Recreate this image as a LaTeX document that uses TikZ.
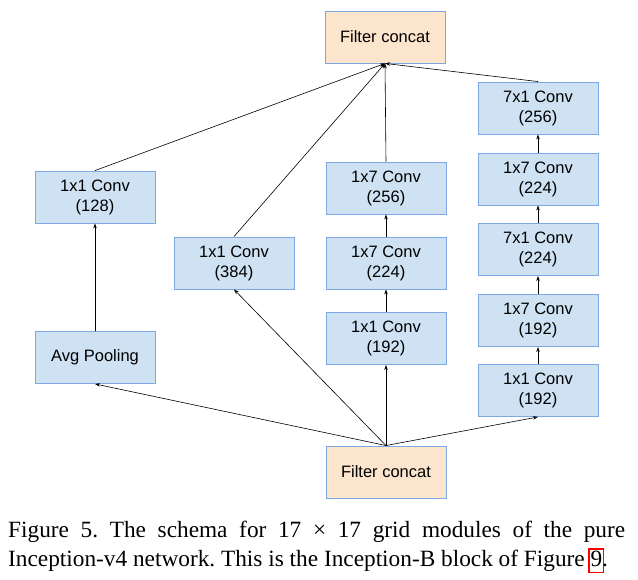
\documentclass[tikz,border=0pt]{standalone}
\usepackage{fontspec}
\setmainfont{Liberation Serif}
\newfontfamily\boxfont{Liberation Sans}
\usetikzlibrary{arrows.meta}
\definecolor{convfill}{HTML}{CFE2F3}
\definecolor{concatfill}{HTML}{FCE5CD}
\definecolor{boxline}{HTML}{7EA8E4}
\newcommand{\linkbox}[1]{\kern-2.2pt{\setlength{\fboxsep}{1pt}\setlength{\fboxrule}{1.2pt}\fcolorbox{red}{white}{\vphantom{g}#1}}\kern-2.2pt}

\begin{document}
\begin{tikzpicture}[x=1pt,y=-1pt,
  conv/.style={draw=boxline, fill=convfill, line width=0.9pt, minimum width=120pt, minimum height=52pt, inner sep=0pt, align=center, font=\boxfont\fontsize{16.5}{20}\selectfont},
  concat/.style={conv, fill=concatfill},
  arr/.style={-{Stealth[length=5pt,width=3.5pt]}, line width=0.6pt}]
\useasboundingbox (0,0) rectangle (638,580);
% concat nodes
\node[concat] (fcout) at (385,37) {Filter concat};
\node[concat] (fcin) at (386,472) {Filter concat};
% pooling branch
\node[conv] (pool) at (95,357.5) {Avg Pooling};
\node[conv] (conv128) at (95,197) {1x1 Conv\\(128)};
% single conv branch
\node[conv] (conv384) at (234,263) {1x1 Conv\\(384)};
% 7x7 branch
\node[conv] (sa) at (386,338.5) {1x1 Conv\\(192)};
\node[conv] (sb) at (386,263) {1x7 Conv\\(224)};
\node[conv] (sc) at (386,188) {1x7 Conv\\(256)};
% double 7x7 branch
\node[conv] (da) at (538,390.5) {1x1 Conv\\(192)};
\node[conv] (db) at (538,320.5) {1x7 Conv\\(192)};
\node[conv] (dc) at (538,249.5) {7x1 Conv\\(224)};
\node[conv] (dd) at (538,179) {1x7 Conv\\(224)};
\node[conv] (de) at (538,108) {7x1 Conv\\(256)};

\foreach \n in {pool,conv384,sa,da}% from input
  \draw[arr] (fcin.north) -- (\n.south);
\foreach \a/\b in {pool/conv128,sa/sb,sb/sc,da/db,db/dc,dc/dd,dd/de}% inside branches
  \draw[arr] (\a) -- (\b);
\foreach \n in {conv128,conv384,sc,de}% to output
  \draw[arr] (\n.north) -- (fcout.south);

\node[anchor=base west, text width=617pt, align=justify, inner sep=0pt, font=\fontsize{23.3}{29}\selectfont] (caption) at (8,537)
  {\tolerance=10000\relax\hyphenpenalty=10000\relax\frenchspacing Figure 5. The schema for 17 × 17 grid modules of the pure\linebreak Inception-v4 network. This is the Inception-B block of Figure~\linkbox{9}.};
\end{tikzpicture}
\end{document}
